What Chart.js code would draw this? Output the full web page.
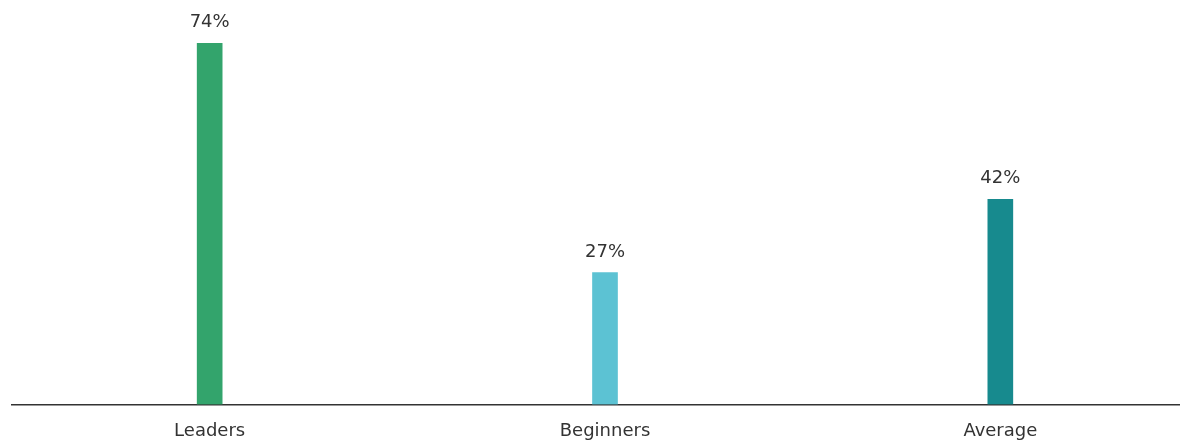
<!DOCTYPE html>
<html>
<head>
<meta charset="utf-8">
<script src="https://cdn.jsdelivr.net/npm/chart.js@4"></script>
<style>
  html, body { margin: 0; padding: 0; background: #fff; overflow: hidden; }
  #wrap { width: 1200px; height: 440px; }
</style>
</head>
<body>
<div id="wrap"><canvas id="chart"></canvas></div>
<script>
const categories = ['Leaders', 'Beginners', 'Average'];
const values = [74, 27, 42];
const barColors = ['#33a46c', '#5cc2d3', '#178a8e'];

// draws the "74%" style labels above each bar
const valueLabels = {
  id: 'valueLabels',
  afterDatasetsDraw(chart) {
    const ctx = chart.ctx;
    const meta = chart.getDatasetMeta(0);
    ctx.save();
    ctx.font = '18px "DejaVu Sans", sans-serif';
    ctx.fillStyle = '#333';
    ctx.textAlign = 'center';
    ctx.textBaseline = 'alphabetic';
    meta.data.forEach((bar, i) => {
      ctx.fillText(values[i] + '%', bar.x, bar.y - 16);
    });
    ctx.restore();
  }
};

new Chart(document.getElementById('chart'), {
  type: 'bar',
  data: {
    labels: categories,
    datasets: [{
      data: values,
      backgroundColor: barColors,
      barThickness: 25
    }]
  },
  options: {
    responsive: true,
    maintainAspectRatio: false,
    animation: false,
    layout: { padding: { top: 14, left: 12, right: 2, bottom: -10 } },
    plugins: {
      legend: { display: false },
      tooltip: { enabled: false }
    },
    scales: {
      x: {
        grid: { display: false },
        border: { display: true, color: '#333', width: 1.5 },
        ticks: {
          color: '#333',
          padding: 8,
          font: { family: '"DejaVu Sans", sans-serif', size: 18 }
        }
      },
      y: {
        display: false,
        min: 0,
        max: 80
      }
    }
  },
  plugins: [valueLabels]
});
</script>
</body>
</html>
